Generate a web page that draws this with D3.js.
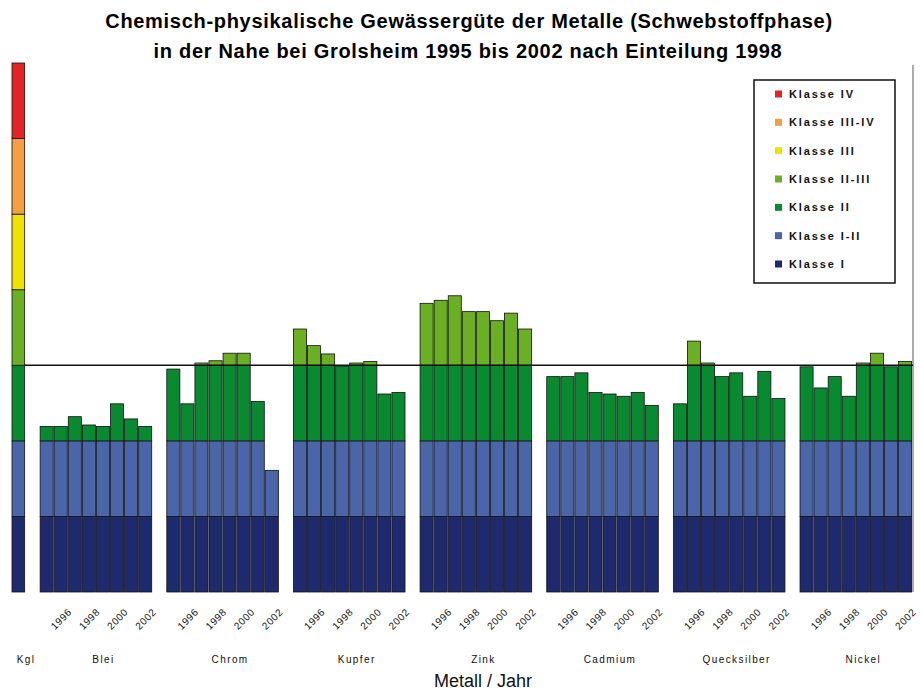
<!DOCTYPE html>
<html>
<head>
<meta charset="utf-8">
<script src="https://cdn.jsdelivr.net/npm/d3@7"></script>
<style>
  body { margin: 0; background: #fff; }
  svg { display: block; font-family: "Liberation Sans", Arial, sans-serif; }
</style>
</head>
<body>
<svg id="chart" width="923" height="690"></svg>
<script>
// Quality classes, bottom (best) to top (worst)
const classNames = ["Klasse I", "Klasse I-II", "Klasse II", "Klasse II-III", "Klasse III", "Klasse III-IV", "Klasse IV"];
const classColors = ["#1f2a6e", "#4a66a8", "#0a8a30", "#6aaf24", "#f0e200", "#f4a040", "#e22424"];

const scaleLabel = "Kgl";
const metals = ["Blei", "Chrom", "Kupfer", "Zink", "Cadmium", "Quecksilber", "Nickel"];
const years = [1995, 1996, 1997, 1998, 1999, 2000, 2001, 2002];
const yearTickLabels = ["1996", "1998", "2000", "2002"];

// Position on the class scale (0 = bottom of Klasse I, 7 = top of Klasse IV)
const blei        = [2.19, 2.19, 2.32, 2.21, 2.19, 2.49, 2.29, 2.19];
const chrom       = [2.95, 2.49, 3.03, 3.06, 3.16, 3.16, 2.52, 1.61];
const kupfer      = [3.48, 3.26, 3.15, 2.99, 3.03, 3.05, 2.62, 2.64];
const zink        = [3.82, 3.86, 3.92, 3.71, 3.71, 3.59, 3.69, 3.48];
const cadmium     = [2.85, 2.85, 2.90, 2.64, 2.62, 2.59, 2.64, 2.47];
const quecksilber = [2.49, 3.32, 3.03, 2.85, 2.90, 2.59, 2.92, 2.56];
const nickel      = [2.98, 2.70, 2.85, 2.59, 3.03, 3.16, 2.98, 3.05];
const seriesByMetal = [blei, chrom, kupfer, zink, cadmium, quecksilber, nickel];

const targetClass = 3; // upper limit of Klasse II

const svg = d3.select("#chart");

// One band slot per bar, plus a spacer slot after the scale column and each metal
const slotKeys = [scaleLabel, "gap-0"];
metals.forEach((m, i) => {
  years.forEach(y => slotKeys.push(m + "|" + y));
  if (i < metals.length - 1) slotKeys.push("gap-" + (i + 1));
});

const x = d3.scaleBand().domain(slotKeys).range([12, 912.6]).padding(0);
const y = d3.scaleLinear().domain([0, classNames.length]).range([592, 63]);
const step = x.step();

// Split a value into stacked class segments
function segments(v) {
  const out = [];
  for (let k = 0; k < classNames.length; k++) {
    if (v > k) out.push({ k, y0: k, y1: Math.min(v, k + 1) });
  }
  return out;
}

const bars = [{ key: scaleLabel, value: classNames.length }];
metals.forEach((m, i) => {
  years.forEach((yr, j) => bars.push({ key: m + "|" + yr, value: seriesByMetal[i][j] }));
});

const barG = svg.append("g");
bars.forEach(b => {
  const w = b.key === scaleLabel ? x.bandwidth() - 1.4 : x.bandwidth() - 1;
  barG.append("g").selectAll("rect")
    .data(segments(b.value))
    .join("rect")
    .attr("x", x(b.key))
    .attr("width", w)
    .attr("y", d => y(d.y1))
    .attr("height", d => y(d.y0) - y(d.y1))
    .attr("fill", d => classColors[d.k])
    .attr("stroke", "#111")
    .attr("stroke-width", 0.8);
});

// Plot area right border
svg.append("line")
  .attr("x1", 913).attr("x2", 913)
  .attr("y1", y(classNames.length) + 2).attr("y2", y(0))
  .attr("stroke", "#aaa").attr("stroke-width", 2);

// Reference line at the Klasse II limit
svg.append("line")
  .attr("x1", x(scaleLabel) + x.bandwidth() - 1.4).attr("x2", 913)
  .attr("y1", y(targetClass)).attr("y2", y(targetClass))
  .attr("stroke", "#111").attr("stroke-width", 1.6);

// Year tick labels (every second year), rotated
const yearG = svg.append("g");
metals.forEach(m => {
  yearTickLabels.forEach(lbl => {
    const cx = x(m + "|" + lbl) + x.bandwidth() / 2;
    yearG.append("text")
      .attr("transform", `translate(${cx},619) rotate(-45)`)
      .attr("text-anchor", "middle")
      .attr("dy", "0.35em")
      .attr("font-size", 10)
      .attr("letter-spacing", 0.6)
      .attr("fill", "#111")
      .text(lbl);
  });
});

// Metal labels centred under each group (including its spacer slot)
const groupG = svg.append("g")
  .attr("font-size", 10).attr("letter-spacing", 1.4).attr("fill", "#111").attr("text-anchor", "middle");
groupG.append("text")
  .attr("x", x(scaleLabel) + step)
  .attr("y", 663)
  .text(scaleLabel);
metals.forEach(m => {
  groupG.append("text")
    .attr("x", x(m + "|" + years[0]) + 4.5 * step)
    .attr("y", 663)
    .text(m);
});

// Axis title
svg.append("text")
  .attr("x", 483).attr("y", 687)
  .attr("text-anchor", "middle")
  .attr("font-size", 18)
  .attr("fill", "#111")
  .text("Metall / Jahr");

// Chart title
const title = svg.append("g").attr("font-weight", "bold").attr("font-size", 20)
  .attr("letter-spacing", 0.7).attr("text-anchor", "middle").attr("fill", "#000");
title.append("text").attr("x", 469).attr("y", 28)
  .text("Chemisch-physikalische Gewässergüte der Metalle (Schwebstoffphase)");
title.append("text").attr("x", 468).attr("y", 58)
  .text("in der Nahe bei Grolsheim 1995 bis 2002 nach Einteilung 1998");

// Legend
const legend = svg.append("g").attr("transform", "translate(754,80)");
legend.append("rect")
  .attr("width", 141).attr("height", 203)
  .attr("fill", "#fff").attr("stroke", "#111").attr("stroke-width", 1.5);
const legendOrder = d3.range(classNames.length).reverse();
const ly = d3.scalePoint().domain(legendOrder).range([14, 184]);
const items = legend.selectAll("g.item").data(legendOrder).join("g")
  .attr("class", "item")
  .attr("transform", k => `translate(0,${ly(k)})`);
items.append("rect")
  .attr("x", 21).attr("y", -3.5).attr("width", 7).attr("height", 7)
  .attr("fill", k => classColors[k]);
items.append("text")
  .attr("x", 35).attr("dy", "0.36em")
  .attr("font-size", 11).attr("font-weight", "bold").attr("letter-spacing", 1.9)
  .attr("fill", "#111")
  .text(k => classNames[k]);
</script>
</body>
</html>
